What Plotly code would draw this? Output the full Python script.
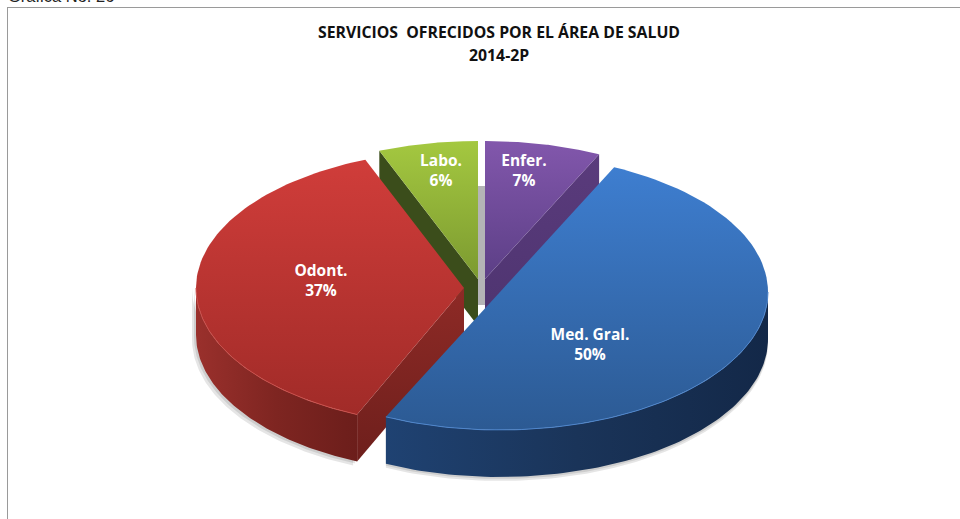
import numpy as np
import plotly.graph_objects as go

categories = ["Enfer.", "Med. Gral.", "Odont.", "Labo."]
values = [7, 50, 37, 6]
title_lines = ["SERVICIOS\u00a0\u00a0OFRECIDOS POR EL ÁREA DE SALUD", "2014-2P"]
caption = "Grafica No. 26"

# projection of the tilted pie onto the page (pixel-valued axes)
RX, RY, DEPTH = 268, 138, 47
centers = [(485, 279), (500, 292), (464, 288), (478, 279)]
label_pos = [(524, 172), (590, 346), (321, 282), (441, 172)]
top_cols = [("#8257AC", "#5C3F86"), ("#3E7ED0", "#2C5A93"), ("#D03D3A", "#A12B28"), ("#A4C840", "#7C9A30")]
arc_cols = [None, ("#1F4272", "#1A3459", "#132848"), ("#9A302C", "#7E2521", "#6C1E1B"), None]
edge_cols = [("#5A3B7C", "#4E3470"), None, ("#8E2A26", "#6E1F1C"), ("#3B4D1B", "#3B4D1B")]
rim_cols = ["#9A78BE", "#4F86CC", "#C9504C", "#BAD765"]
start_trim = [0, 0, -1.7, 0]


def pt(c, deg, dy=0):
    a = np.radians(deg)
    return c[0] + RX * np.sin(a), c[1] - RY * np.cos(a) + dy


def arc(c, a0, a1, dy=0, n=90):
    t = np.linspace(a0, a1, n)
    return pt(c, t, dy)


fracs = np.array(values, float) / sum(values)
ends = np.cumsum(fracs) * 360
starts = ends - fracs * 360 + np.array(start_trim)

fig = go.Figure()


def poly(x, y, col=None, grad=None, kind=None):
    kw = dict(x=list(x), y=list(y), mode="lines", line=dict(width=0), fill="toself",
              hoverinfo="skip", showlegend=False)
    if grad:
        n = len(grad) - 1
        kw["fillgradient"] = dict(type=kind, colorscale=[[i / n, g] for i, g in enumerate(grad)])
    else:
        kw["fillcolor"] = col
    fig.add_trace(go.Scatter(**kw))


# soft ground shadow behind the walls
for i in (1, 2):
    lo, hi = max(starts[i], 90), min(ends[i], 270)
    for off in (4, 2):
        xa, ya = arc(centers[i], lo, hi, DEPTH + off)
        xb, yb = arc(centers[i], hi, lo, 0)
        poly(np.r_[xa, xb] - (off if i == 2 else 0), np.r_[ya, yb], col="rgba(0,0,0,0.10)")

# gap shadow between the two small slices
gx, gy = [centers[3][0], centers[0][0], centers[0][0], centers[3][0]], [186, 186, 305, 305]
poly(gx, gy, col="#B4B4B6")

for i in (0, 3, 2, 1):
    c = centers[i]
    s, e = starts[i], ends[i]
    # straight wall facing the viewer
    if edge_cols[i]:
        edge = e if i == 0 else s
        px, py = pt(c, edge)
        poly([c[0], px, px, c[0]], [c[1], py, py + DEPTH, c[1] + DEPTH],
             grad=edge_cols[i][::-1], kind="vertical")
    # curved outer wall
    if arc_cols[i]:
        lo, hi = max(s, 90), min(e, 270)
        xa, ya = arc(c, lo, hi, 0)
        xb, yb = arc(c, hi, lo, DEPTH)
        poly(np.r_[xa, xb], np.r_[ya, yb], grad=arc_cols[i], kind="horizontal")
    # top face
    xa, ya = arc(c, s, e)
    poly(np.r_[c[0], xa], np.r_[c[1], ya], grad=top_cols[i][::-1], kind="vertical")
    # light rim on the front edge
    if arc_cols[i]:
        xa, ya = arc(c, max(s, 90), min(e, 270))
        fig.add_trace(go.Scatter(x=xa, y=ya, mode="lines", line=dict(color=rim_cols[i], width=1),
                                 hoverinfo="skip", showlegend=False))

fig.add_trace(go.Scatter(
    x=[p[0] for p in label_pos], y=[p[1] for p in label_pos], mode="text",
    text=[f"<b>{n}</b><br><b>{v}%</b>" for n, v in zip(categories, values)],
    textposition="middle center",
    textfont=dict(family="Open Sans", size=15.5, color="white"),
    hoverinfo="skip", showlegend=False))

for txt, y in zip(title_lines, (32, 55)):
    fig.add_annotation(x=499, y=y, text=f"<b>{txt}</b>", showarrow=False, xanchor="center", yanchor="middle",
                       font=dict(family="Open Sans", size=15.8, color="#111111"))
fig.add_annotation(x=7, y=8, text=caption, showarrow=False, xanchor="left", yanchor="bottom",
                   xshift=-1, yshift=1, font=dict(family="Liberation Sans", size=16.5, color="#222222"))

fig.add_shape(type="line", x0=7, x1=960, y0=7.5, y1=7.5, line=dict(color="#9A9A9A", width=1))
fig.add_shape(type="line", x0=7.5, x1=7.5, y0=7, y1=519, line=dict(color="#9A9A9A", width=1))

fig.update_layout(width=960, height=519, margin=dict(l=0, r=0, t=0, b=0), autosize=False,
                  paper_bgcolor="white", plot_bgcolor="white", showlegend=False,
                  xaxis=dict(range=[0, 960], visible=False, fixedrange=True),
                  yaxis=dict(range=[519, 0], visible=False, fixedrange=True))
fig.write_html("out.html", post_script="document.body.style.margin='0';", config={"displayModeBar": False})
